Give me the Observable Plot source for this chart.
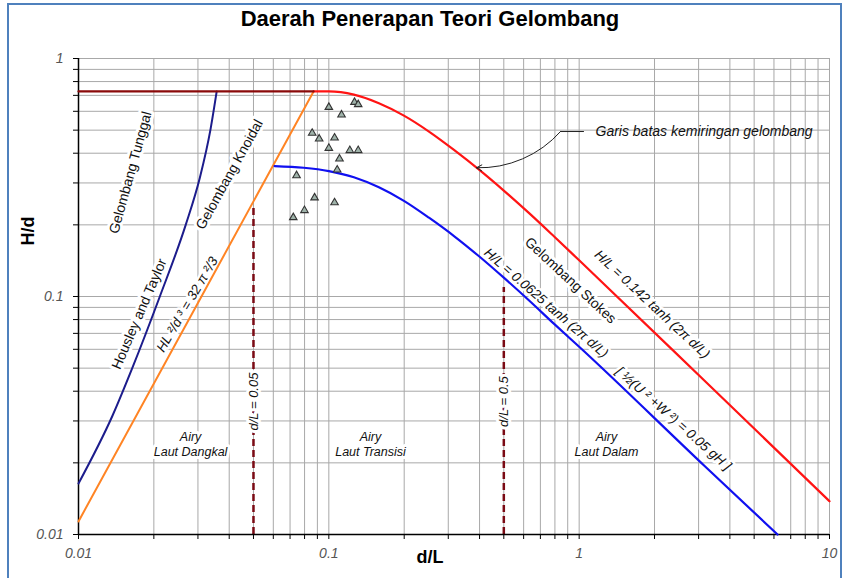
<!DOCTYPE html>
<html><head><meta charset="utf-8">
<script src="https://cdn.jsdelivr.net/npm/d3@7"></script>
<script src="https://cdn.jsdelivr.net/npm/@observablehq/plot@0.6"></script>
<style>
body{margin:0;background:#fff;font-family:"Liberation Sans",Arial,sans-serif;}
#wrap{position:relative;width:847px;height:578px;overflow:hidden;background:#fff;}
#border{position:absolute;left:7px;top:3px;width:831px;height:620px;border:2.5px solid #4f81bd;pointer-events:none;}
#title{position:absolute;left:430px;top:6px;transform:translateX(-50%);white-space:nowrap;font:bold 22px "Liberation Sans",Arial,sans-serif;color:#000;}
</style></head><body><div id="wrap"><div id="chart"></div><div id="title">Daerah Penerapan Teori Gelombang</div><div id="border"></div></div>
<script>
// ---------- data ----------
const titleText = "Daerah Penerapan Teori Gelombang";
const xGrid = [0.01,0.02,0.03,0.04,0.05,0.06,0.07,0.08,0.09,0.1,0.2,0.3,0.4,0.5,0.6,0.7,0.8,0.9,1,2,3,4,5,6,7,8,9,10];
const yGrid = [0.01,0.02,0.03,0.04,0.05,0.06,0.07,0.08,0.09,0.1,0.2,0.3,0.4,0.5,0.6,0.7,0.8,0.9,1];
const xTickValues = [0.01, 0.1, 1, 10];
const xTickLabels = ["0.01", "0.1", "1", "10"];
const yTickValues = [0.01, 0.1, 1];
const yTickLabels = ["0.01", "0.1", "1"];

// breaking limit H/d (horizontal)
const breakX = [0.01, 0.0869];
const breakY = [0.727, 0.727];
// steepness limit H/L = 0.142 tanh(2pi d/L)
const steepX = [0.0869, 0.1, 0.1259, 0.1585, 0.1995, 0.2512, 0.3162, 0.3981, 0.5012, 0.631, 0.7943, 1, 3.162, 10];
const steepY = [0.727, 0.727, 0.7047, 0.6486, 0.5754, 0.4932, 0.4130, 0.3412, 0.2780, 0.2239, 0.1786, 0.1419, 0.04436, 0.0138];
// H/L = 0.0625 tanh(2pi d/L)
const stokesX = [0.0607, 0.0794, 0.1, 0.1259, 0.1585, 0.1995, 0.2512, 0.3162, 0.3981, 0.5012, 0.631, 0.7943, 1, 3.162, 6.198];
const stokesY = [0.3532, 0.3475, 0.3365, 0.3170, 0.2877, 0.2523, 0.2143, 0.1795, 0.1476, 0.1197, 0.0962, 0.0767, 0.0615, 0.01945, 0.01];
// HL^2/d^3 = 32 pi^2/3
const knoidalX = [0.01, 0.0869];
const knoidalY = [0.01135, 0.727];
// Housley and Taylor
const solitaryX = [0.01, 0.01368, 0.01641, 0.02113, 0.02679, 0.03055, 0.03365, 0.03565];
const solitaryY = [0.01638, 0.03162, 0.05012, 0.1, 0.1995, 0.3162, 0.5012, 0.727];
// d/L limits (dashed)
const limitX = [0.05, 0.5];
const limitBottom = [0.01, 0.01];
const limitTop = [0.2366, 0.1091];
// observations (triangles)
const obsX = [0.1000, 0.1266, 0.1310, 0.1124, 0.0858, 0.0915, 0.1054, 0.1000, 0.1213, 0.1310, 0.1103, 0.1080, 0.0743, 0.0877, 0.1054, 0.0799, 0.0721];
const obsY = [0.624, 0.655, 0.641, 0.580, 0.486, 0.460, 0.464, 0.420, 0.411, 0.411, 0.379, 0.3405, 0.3224, 0.260, 0.248, 0.230, 0.2148];

// ---------- annotations ----------
const regionText = ["Airy\nLaut Dangkal", "Airy\nLaut Transisi", "Airy\nLaut Dalam"];
const regionX = [0.02803, 0.1467, 1.286];
const regionY = [0.02412, 0.02412, 0.02412];

const nameText = ["Gelombang Tunggal", "Gelombang Knoidal", "Housley and Taylor", "Gelombang Stokes"];
const nameX = [0.01613, 0.0401, 0.0175, 0.9234];
const nameY = [0.332, 0.3256, 0.0845, 0.1168];
const nameAngle = [-74.5, -61, -66.7, 43];

const formulaText = ["HL \u00B2/d \u00B3 = 32 \u03C0 \u00B2/3", "H/L = 0.142 tanh (2\u03C0 d/L)", "H/L = 0.0625 tanh (2\u03C0 d/L)", "[ \u00BD(U \u00B2 +W \u00B2) = 0.05 gH ]"];
const formulaX = [0.02718, 1.957, 0.7385, 2.382];
const formulaY = [0.0926, 0.0926, 0.0939, 0.0307];
const formulaAngle = [-59.5, 43, 41, 41.5];

const limitText = ["d/L = 0.05", "d/L = 0.5"];
const limitLabelY = [0.0362, 0.0362];

const calloutText = "Garis batas kemiringan gelombang";
const calloutX = [1.041, 0.8425, 0.389];
const calloutY = [0.4934, 0.4934, 0.3475];
const calloutTextX = 1.162;

// ---------- build ----------
const zipXY = (xs, ys) => xs.map((x, i) => ({x, y: ys[i]}));
const FONT = "Liberation Sans, Arial, sans-serif";

const chart = Plot.plot({
  width: 847, height: 578,
  marginLeft: 78, marginRight: 18, marginTop: 58, marginBottom: 44,
  style: {fontFamily: FONT, background: "transparent", overflow: "visible"},
  x: {type: "log", domain: [0.01, 10]},
  y: {type: "log", domain: [0.01, 1]},
  marks: [
    Plot.ruleX(xGrid, {stroke: "#a8a8a8", strokeWidth: 1}),
    Plot.ruleY(yGrid, {stroke: "#a8a8a8", strokeWidth: 1}),
    Plot.ruleX(limitX.map((x, i) => ({x, y1: limitBottom[i], y2: limitTop[i]})),
      {x: "x", y1: "y1", y2: "y2", stroke: "#7a0a14", strokeWidth: 2.5, strokeDasharray: "7,4"}),
    Plot.text(regionText.map((t, i) => ({t, x: regionX[i], y: regionY[i]})),
      {x: "x", y: "y", text: "t", fontSize: 12.5, fontStyle: "italic", fill: "#111", lineHeight: 1.25,
       stroke: "white", strokeWidth: 6}),
    Plot.text(nameText.map((t, i) => ({t, x: nameX[i], y: nameY[i], r: nameAngle[i]})),
      {x: "x", y: "y", text: "t", rotate: "r", fontSize: 14, fill: "#111", stroke: "white", strokeWidth: 6}),
    Plot.text(formulaText.map((t, i) => ({t, x: formulaX[i], y: formulaY[i], r: formulaAngle[i]})),
      {x: "x", y: "y", text: "t", rotate: "r", fontSize: 13.5, fontStyle: "italic", fill: "#111", stroke: "white", strokeWidth: 5}),
    Plot.text(limitText.map((t, i) => ({t, x: limitX[i], y: limitLabelY[i]})),
      {x: "x", y: "y", text: "t", rotate: -90, fontSize: 13, fontStyle: "italic", fill: "#111", stroke: "white", strokeWidth: 6}),
    // axes
    Plot.axisX({ticks: xGrid, tickSize: 5, tickFormat: () => "", label: null, stroke: "#000"}),
    Plot.axisY({ticks: yGrid, tickSize: 5, tickFormat: () => "", label: null, stroke: "#000"}),
    Plot.ruleX([0.01], {stroke: "#000", strokeWidth: 1.5}),
    Plot.ruleY([0.01], {stroke: "#000", strokeWidth: 1.5}),
    Plot.text(xTickValues.map((v, i) => ({v, t: xTickLabels[i]})),
      {x: "v", text: "t", frameAnchor: "bottom", dy: 23, fontSize: 14, fontStyle: "italic", fill: "#555"}),
    Plot.text(yTickValues.map((v, i) => ({v, t: yTickLabels[i]})),
      {y: "v", text: "t", frameAnchor: "left", dx: -15, textAnchor: "end", fontSize: 14, fontStyle: "italic", fill: "#555"}),
    Plot.text(["d/L"], {frameAnchor: "bottom-left", dx: 338, dy: 28, fontSize: 18, fontWeight: "bold", fill: "#000"}),
    Plot.text(["H/d"], {frameAnchor: "left", dx: -50, dy: -51, rotate: -90, fontSize: 18, fontWeight: "bold", fill: "#000"}),
    // curves
    Plot.line(zipXY(knoidalX, knoidalY), {x: "x", y: "y", stroke: "#ff8424", strokeWidth: 2}),
    Plot.line(zipXY(solitaryX, solitaryY), {x: "x", y: "y", stroke: "#1c1c8c", strokeWidth: 2, curve: "monotone-x"}),
    Plot.line(zipXY(stokesX, stokesY), {x: "x", y: "y", stroke: "#1010f0", strokeWidth: 2.2, curve: "monotone-x"}),
    Plot.line(zipXY(steepX, steepY), {x: "x", y: "y", stroke: "#ff1414", strokeWidth: 2.2, curve: "monotone-x"}),
    Plot.line(zipXY(breakX, breakY), {x: "x", y: "y", stroke: "#8a0a0a", strokeWidth: 2.2}),
    Plot.dot(zipXY(obsX, obsY), {x: "x", y: "y", symbol: "triangle", r: 2.8, fill: "#9fb3aa", stroke: "#333", strokeWidth: 1.1}),
    // callout
    Plot.line(zipXY(calloutX.slice(0, 2), calloutY.slice(0, 2)), {x: "x", y: "y", stroke: "#222", strokeWidth: 1}),
    Plot.arrow([{x1: calloutX[1], y1: calloutY[1], x2: calloutX[2], y2: calloutY[2]}],
      {x1: "x1", y1: "y1", x2: "x2", y2: "y2", bend: 25, stroke: "#222", strokeWidth: 1, headLength: 9}),
    Plot.text([calloutText], {x: () => calloutTextX, y: () => calloutY[0], textAnchor: "start", fontSize: 14, fontStyle: "italic", fill: "#111"})
  ]
});
document.getElementById("chart").appendChild(chart);
document.getElementById("title").textContent = titleText;
</script></body></html>
